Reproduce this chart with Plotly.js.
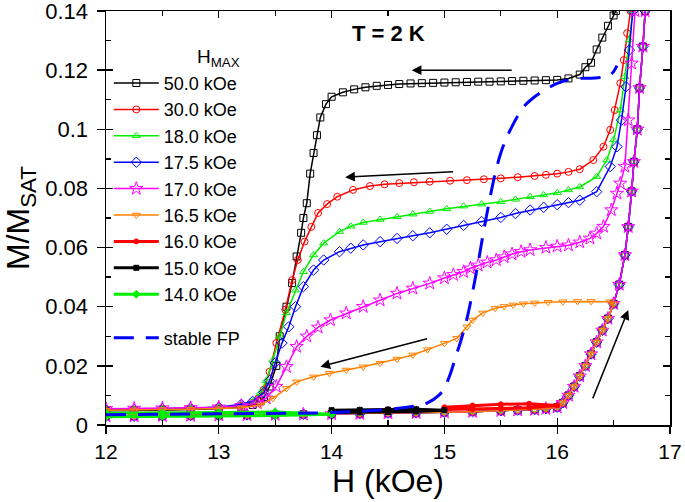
<!DOCTYPE html>
<html>
<head>
<meta charset="utf-8">
<script src="https://cdn.plot.ly/plotly-3.0.1.min.js"></script>
<style>html,body{margin:0;padding:0;background:#fff;}#chart{width:685px;height:502px;}</style>
</head>
<body>
<div id="chart"></div>
<script>
// ---- data ----
const seriesNames = ['50.0 kOe', '30.0 kOe', '18.0 kOe', '17.5 kOe', '17.0 kOe', '16.5 kOe', '16.0 kOe', '15.0 kOe', '14.0 kOe'];
const hMaxValues = [50.0, 30.0, 18.0, 17.5, 17.0, 16.5, 16.0, 15.0, 14.0];
const fpName = 'stable FP';

const xTickVals = [12, 13, 14, 15, 16, 17];
const xTickText = ['12', '13', '14', '15', '16', '17'];
const yTickVals = [0, 0.02, 0.04, 0.06, 0.08, 0.1, 0.12, 0.14];
const yTickText = ['0', '0.02', '0.04', '0.06', '0.08', '0.1', '0.12', '0.14'];

// common ascending branch
const upH = [12.0, 12.25, 12.5, 12.75, 13.0, 13.25, 13.5, 13.75, 14.0, 14.25, 14.5, 14.75, 15.0, 15.25, 15.5, 15.65, 15.8, 15.9, 16.0, 16.05, 16.1, 16.15, 16.2, 16.25, 16.3, 16.35, 16.4, 16.45, 16.5, 16.55, 16.6, 16.63, 16.66, 16.68, 16.71, 16.73, 16.76, 16.78];
const upM = [0.0030, 0.0030, 0.0031, 0.0032, 0.0033, 0.0034, 0.0035, 0.0036, 0.0037, 0.0038, 0.0040, 0.0041, 0.0043, 0.0045, 0.0048, 0.0050, 0.0052, 0.0055, 0.0060, 0.0075, 0.0100, 0.0130, 0.0165, 0.0200, 0.0240, 0.0280, 0.0320, 0.0360, 0.0410, 0.0475, 0.0575, 0.0670, 0.0790, 0.0890, 0.1000, 0.1140, 0.1280, 0.1400];

// descending branches
const d50H = [16.52, 16.50, 16.45, 16.40, 16.35, 16.30, 16.25, 16.20, 16.10, 16.00, 15.90, 15.80, 15.70, 15.60, 15.50, 15.40, 15.30, 15.20, 15.10, 15.00, 14.90, 14.80, 14.70, 14.60, 14.50, 14.40, 14.30, 14.20, 14.10, 14.00, 13.95, 13.90, 13.87, 13.84, 13.81, 13.78, 13.75, 13.73, 13.69, 13.65, 13.60, 13.54, 13.51, 13.45, 13.40, 13.37, 13.30, 13.20, 13.00, 12.75, 12.50, 12.25, 12.00];
const d50M = [0.1400, 0.1385, 0.1350, 0.1310, 0.1270, 0.1225, 0.1210, 0.1185, 0.1172, 0.1167, 0.1166, 0.1165, 0.1164, 0.1163, 0.1162, 0.1161, 0.1161, 0.1160, 0.1159, 0.1158, 0.1157, 0.1156, 0.1155, 0.1153, 0.1150, 0.1147, 0.1142, 0.1135, 0.1125, 0.1110, 0.1085, 0.1040, 0.0980, 0.0920, 0.0850, 0.0750, 0.0700, 0.0650, 0.0570, 0.0480, 0.0400, 0.0300, 0.0200, 0.0130, 0.0095, 0.0080, 0.0068, 0.0060, 0.0055, 0.0052, 0.0050, 0.0049, 0.0048];

const d30H = [16.65, 16.62, 16.59, 16.56, 16.51, 16.47, 16.41, 16.32, 16.20, 16.10, 16.00, 15.90, 15.80, 15.65, 15.50, 15.35, 15.20, 15.05, 14.87, 14.73, 14.60, 14.47, 14.34, 14.19, 14.05, 13.96, 13.88, 13.82, 13.76, 13.70, 13.65, 13.59, 13.51, 13.45, 13.40, 13.35, 13.30, 13.20, 13.00, 12.75, 12.50, 12.25, 12.00];
const d30M = [0.1400, 0.1325, 0.1234, 0.1156, 0.1065, 0.0998, 0.0941, 0.0896, 0.0865, 0.0856, 0.0850, 0.0846, 0.0842, 0.0838, 0.0834, 0.0831, 0.0828, 0.0826, 0.0823, 0.0821, 0.0818, 0.0814, 0.0808, 0.0795, 0.0772, 0.0747, 0.0717, 0.0670, 0.0620, 0.0558, 0.0490, 0.0390, 0.0277, 0.0180, 0.0120, 0.0090, 0.0075, 0.0065, 0.0060, 0.0057, 0.0055, 0.0052, 0.0050];

const d18H = [16.67, 16.64, 16.60, 16.56, 16.50, 16.44, 16.35, 16.20, 16.10, 16.00, 15.88, 15.76, 15.63, 15.50, 15.33, 15.17, 15.02, 14.87, 14.72, 14.58, 14.43, 14.28, 14.17, 14.07, 13.93, 13.84, 13.75, 13.68, 13.60, 13.54, 13.48, 13.42, 13.37, 13.30, 13.20, 13.00, 12.75, 12.50, 12.25, 12.00];
const d18M = [0.1400, 0.1302, 0.1178, 0.1065, 0.0964, 0.0896, 0.0840, 0.0805, 0.0795, 0.0785, 0.0778, 0.0772, 0.0763, 0.0755, 0.0747, 0.0740, 0.0731, 0.0722, 0.0713, 0.0704, 0.0695, 0.0685, 0.0672, 0.0654, 0.0615, 0.0575, 0.0518, 0.0456, 0.0379, 0.0300, 0.0220, 0.0150, 0.0110, 0.0080, 0.0068, 0.0060, 0.0057, 0.0055, 0.0052, 0.0050];

const d175H = [16.67, 16.64, 16.61, 16.57, 16.53, 16.47, 16.35, 16.20, 16.10, 16.00, 15.88, 15.76, 15.63, 15.50, 15.33, 15.17, 15.02, 14.87, 14.72, 14.58, 14.43, 14.28, 14.17, 14.07, 13.93, 13.84, 13.75, 13.68, 13.62, 13.56, 13.50, 13.45, 13.40, 13.30, 13.20, 13.00, 12.75, 12.50, 12.25, 12.00];
const d175M = [0.1400, 0.1268, 0.1144, 0.1031, 0.0941, 0.0874, 0.0789, 0.0760, 0.0752, 0.0745, 0.0736, 0.0727, 0.0715, 0.0702, 0.0688, 0.0675, 0.0662, 0.0650, 0.0640, 0.0631, 0.0620, 0.0609, 0.0598, 0.0586, 0.0558, 0.0524, 0.0468, 0.0400, 0.0332, 0.0277, 0.0210, 0.0150, 0.0110, 0.0080, 0.0070, 0.0060, 0.0057, 0.0055, 0.0052, 0.0050];

const d17H = [16.69, 16.66, 16.63, 16.60, 16.56, 16.53, 16.48, 16.41, 16.35, 16.29, 16.20, 16.10, 16.00, 15.90, 15.76, 15.68, 15.60, 15.53, 15.46, 15.38, 15.30, 15.23, 15.17, 15.08, 15.00, 14.87, 14.72, 14.58, 14.43, 14.28, 14.13, 13.99, 13.88, 13.78, 13.69, 13.60, 13.51, 13.42, 13.34, 13.20, 13.00, 12.75, 12.50, 12.25, 12.00];
const d17M = [0.1400, 0.1223, 0.1031, 0.0874, 0.0817, 0.0783, 0.0727, 0.0671, 0.0648, 0.0631, 0.0618, 0.0608, 0.0604, 0.0600, 0.0592, 0.0586, 0.0578, 0.0568, 0.0558, 0.0550, 0.0540, 0.0530, 0.0518, 0.0508, 0.0497, 0.0479, 0.0462, 0.0445, 0.0422, 0.0400, 0.0378, 0.0355, 0.0330, 0.0300, 0.0265, 0.0197, 0.0130, 0.0091, 0.0074, 0.0065, 0.0060, 0.0058, 0.0057, 0.0056, 0.0055];

const d165H = [16.47, 16.30, 16.18, 16.05, 15.92, 15.80, 15.70, 15.61, 15.53, 15.45, 15.34, 15.25, 15.20, 15.11, 15.00, 14.85, 14.72, 14.58, 14.43, 14.28, 14.13, 13.98, 13.84, 13.69, 13.60, 13.48, 13.37, 13.20, 13.00, 12.75, 12.50, 12.25, 12.00];
const d165M = [0.0417, 0.0418, 0.0418, 0.0417, 0.0415, 0.0413, 0.0410, 0.0406, 0.0401, 0.0395, 0.0379, 0.0355, 0.0332, 0.0293, 0.0276, 0.0255, 0.0237, 0.0223, 0.0209, 0.0197, 0.0186, 0.0175, 0.0163, 0.0146, 0.0124, 0.0090, 0.0068, 0.0058, 0.0055, 0.0053, 0.0052, 0.0051, 0.0050];

// minor loops
const l16H = [15.00, 15.25, 15.50, 15.75, 16.00, 15.75, 15.50, 15.25, 15.00];
const l16M = [0.0052, 0.0054, 0.0056, 0.0058, 0.0066, 0.0072, 0.0070, 0.0066, 0.0060];
const l15H = [14.00, 14.25, 14.50, 14.75, 15.00, 14.75, 14.50, 14.25, 14.00];
const l15M = [0.0042, 0.0043, 0.0044, 0.0046, 0.0050, 0.0053, 0.0052, 0.0051, 0.0050];
const l14H = [12.00, 12.50, 13.00, 13.50, 14.00, 13.50, 13.00, 12.50, 12.00];
const l14M = [0.0028, 0.0029, 0.0030, 0.0032, 0.0036, 0.0044, 0.0042, 0.0041, 0.0040];

// stable FP
const fpH = [12.0, 13.0, 14.0, 14.4, 14.7, 14.85, 14.95, 15.0, 15.05, 15.1, 15.15, 15.2, 15.25, 15.3, 15.35, 15.4, 15.45, 15.5, 15.55, 15.6, 15.65, 15.7, 15.8, 15.9, 16.0, 16.1, 16.2, 16.3, 16.4, 16.45, 16.5, 16.53];
const fpM = [0.0035, 0.0038, 0.0042, 0.0050, 0.0062, 0.0075, 0.0100, 0.0125, 0.0170, 0.0230, 0.0290, 0.0360, 0.0450, 0.0550, 0.0660, 0.0760, 0.0850, 0.0920, 0.0970, 0.1010, 0.1045, 0.1075, 0.1110, 0.1135, 0.1155, 0.1167, 0.1172, 0.1173, 0.1176, 0.1178, 0.1195, 0.1215];

// ---- build traces ----
function fullLoop(hmax, dH, dM, gap) {
  const x = [], y = [];
  for (let i = 0; i < upH.length; i++) if (upH[i] <= hmax) { x.push(upH[i]); y.push(upM[i]); }
  if (gap) { x.push(null); y.push(null); }
  return { x: x.concat(dH), y: y.concat(dM) };
}
const loops = [
  fullLoop(hMaxValues[0], d50H, d50M, true),
  fullLoop(hMaxValues[1], d30H, d30M, true),
  fullLoop(hMaxValues[2], d18H, d18M, true),
  fullLoop(hMaxValues[3], d175H, d175M, true),
  fullLoop(hMaxValues[4], d17H, d17M, true),
  fullLoop(hMaxValues[5], d165H, d165M, false),
  { x: l16H, y: l16M },
  { x: l15H, y: l15M },
  { x: l14H, y: l14M }
];
const styles = [
  { c: '#000000', s: 'square-open', z: 7, w: 1.5 },
  { c: '#ff0000', s: 'circle-open', z: 7, w: 1.5 },
  { c: '#00ee00', s: 'triangle-up-open', z: 7, w: 1.5 },
  { c: '#0000ff', s: 'diamond-open', z: 8, w: 1.5 },
  { c: '#ff00ff', s: 'star-open', z: 10, w: 1.5 },
  { c: '#ff8000', s: 'triangle-down-open', z: 7, w: 1.5 },
  { c: '#ff0000', s: 'circle', z: 5, w: 3 },
  { c: '#000000', s: 'square', z: 5, w: 3 },
  { c: '#00ee00', s: 'diamond', z: 6, w: 3 }
];
const traces = loops.map((d, i) => ({
  type: 'scatter', mode: 'lines+markers', name: seriesNames[i],
  x: d.x, y: d.y, connectgaps: false,
  line: { color: styles[i].c, width: styles[i].w },
  marker: { symbol: styles[i].s, size: styles[i].z, color: styles[i].c, line: { color: styles[i].c, width: 1 } },
  hoverinfo: 'skip'
}));
traces.push({
  type: 'scatter', mode: 'lines', name: fpName, x: fpH, y: fpM, legend: 'legend2',
  line: { color: '#0000ff', width: 3, dash: '20px,12px', shape: 'spline' }, hoverinfo: 'skip'
});
traces.push({ type: 'scatter', x: [], y: [], xaxis: 'x2', yaxis: 'y2', showlegend: false, hoverinfo: 'skip' });

const F = 'Liberation Sans, Arial, sans-serif';
const axBase = { showgrid: false, zeroline: false, linecolor: '#000', color: '#000' };
const layout = {
  width: 685, height: 502,
  margin: { l: 106, r: 15, t: 11, b: 77 },
  paper_bgcolor: '#fff', plot_bgcolor: '#fff',
  font: { family: F, color: '#000' },
  showlegend: true,
  xaxis: Object.assign({}, axBase, {
    range: [12, 17], tickmode: 'array', tickvals: xTickVals, ticktext: xTickText,
    ticks: 'outside', ticklen: 7, tickwidth: 1.3, tickcolor: '#000',
    showline: true, linewidth: 1.5, mirror: true, ticklabeloverflow: 'allow',
    tickfont: { size: 21, family: F }, ticklabelstandoff: 0,
    title: { text: 'H (kOe)', font: { size: 32, family: F }, standoff: 0 }
  }),
  yaxis: Object.assign({}, axBase, {
    range: [0, 0.14], tickmode: 'array', tickvals: yTickVals, ticktext: yTickText,
    ticks: 'outside', ticklen: 8, tickwidth: 1.3, tickcolor: '#000',
    showline: true, linewidth: 1.5, mirror: true, ticklabeloverflow: 'allow',
    tickfont: { size: 22, family: F }, ticklabelstandoff: 4,
    title: { text: 'M/M<sub>SAT</sub>', font: { size: 32, family: F }, standoff: 10 }
  }),
  xaxis2: Object.assign({}, axBase, {
    overlaying: 'x', anchor: 'y', side: 'bottom', range: [12, 17], dtick: 1, tick0: 12,
    ticks: 'inside', ticklen: 7, tickwidth: 1.3, tickcolor: '#000', showticklabels: false,
    showline: false, mirror: 'ticks',
    minor: { ticks: 'inside', ticklen: 5, dtick: 0.5, tick0: 12, tickcolor: '#000', tickwidth: 1.3 }
  }),
  yaxis2: Object.assign({}, axBase, {
    overlaying: 'y', anchor: 'x', side: 'left', range: [0, 0.14], dtick: 0.02, tick0: 0,
    ticks: 'inside', ticklen: 7, tickwidth: 1.3, tickcolor: '#000', showticklabels: false,
    showline: false, mirror: 'ticks',
    minor: { ticks: 'inside', ticklen: 5, dtick: 0.01, tick0: 0, tickcolor: '#000', tickwidth: 1.3 }
  }),
  legend: {
    x: 0.005, y: 0.870, xanchor: 'left', yanchor: 'top', bgcolor: 'rgba(0,0,0,0)',
    font: { size: 18, family: F }, itemwidth: 45, tracegroupgap: 0
  },
  legend2: {
    x: 0.005, y: 0.255, xanchor: 'left', yanchor: 'top', bgcolor: 'rgba(0,0,0,0)',
    font: { size: 18, family: F }, itemwidth: 45
  },
  annotations: [
    { xref: 'paper', yref: 'paper', x: 0.199, y: 0.886, xanchor: 'center', yanchor: 'middle', text: 'H<sub>MAX</sub>', showarrow: false, font: { size: 19, family: F } },
    { xref: 'x', yref: 'y', x: 14.50, y: 0.1324, text: '<b>T = 2 K</b>', showarrow: false, font: { size: 22, family: F } },
    { xref: 'x', yref: 'y', axref: 'x', ayref: 'y', x: 14.71, y: 0.120, ax: 15.61, ay: 0.120, showarrow: true, arrowhead: 2, arrowsize: 1.3, arrowwidth: 1.5, arrowcolor: '#000', text: '' },
    { xref: 'x', yref: 'y', axref: 'x', ayref: 'y', x: 14.12, y: 0.0838, ax: 15.09, ay: 0.0857, showarrow: true, arrowhead: 2, arrowsize: 1.3, arrowwidth: 1.5, arrowcolor: '#000', text: '' },
    { xref: 'x', yref: 'y', axref: 'x', ayref: 'y', x: 13.90, y: 0.0197, ax: 14.86, ay: 0.0293, showarrow: true, arrowhead: 2, arrowsize: 1.3, arrowwidth: 1.5, arrowcolor: '#000', text: '' },
    { xref: 'x', yref: 'y', axref: 'x', ayref: 'y', x: 16.63, y: 0.0389, ax: 16.31, ay: 0.0085, showarrow: true, arrowhead: 2, arrowsize: 1.3, arrowwidth: 1.5, arrowcolor: '#000', text: '' }
  ]
};
Plotly.newPlot('chart', traces, layout, { staticPlot: true, displayModeBar: false });
</script>
</body>
</html>
